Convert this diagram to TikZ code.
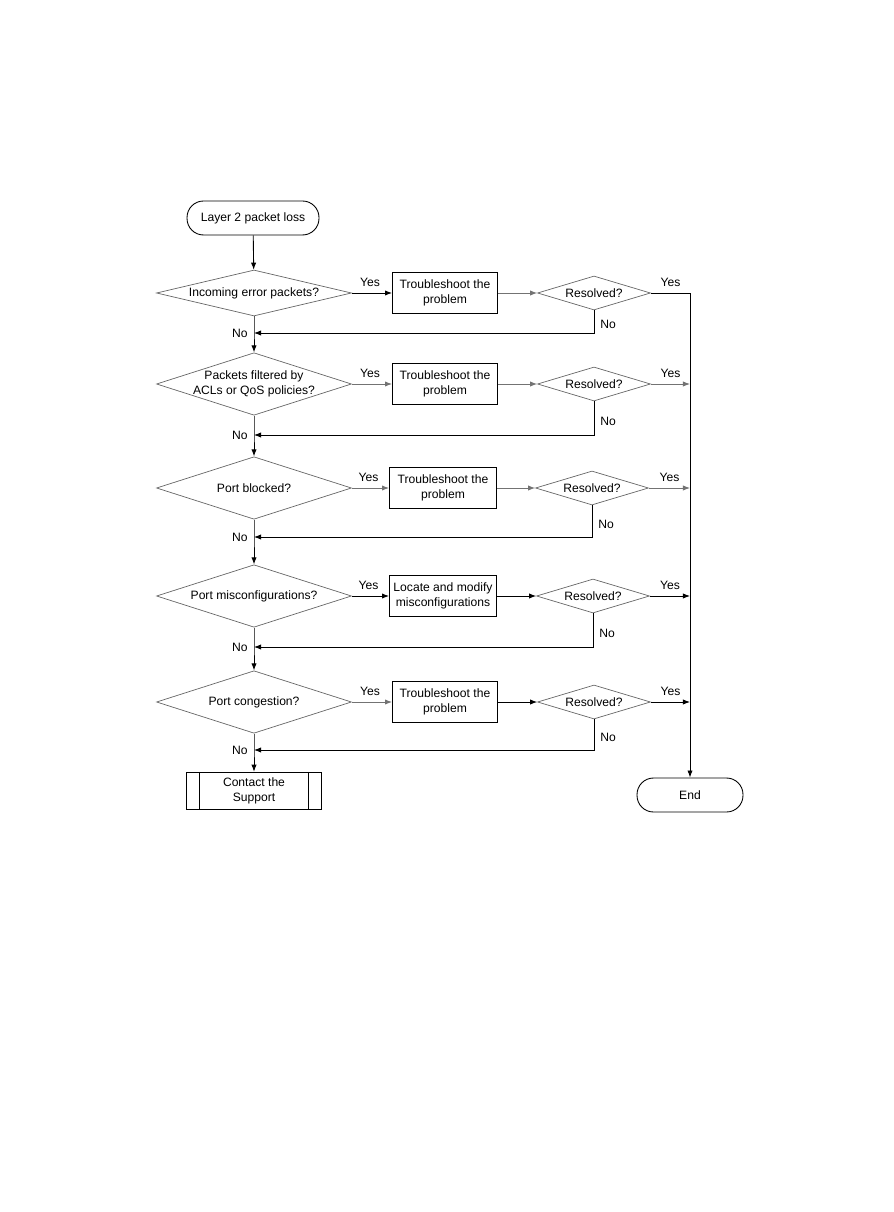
\documentclass[tikz,border=0pt]{standalone}
\usepackage{fontspec}
\setmainfont{Liberation Sans}
\usetikzlibrary{shapes.geometric,arrows.meta}

\begin{document}
\begin{tikzpicture}[x=0.02cm, y=-0.02cm, line width=0.5pt,
    every node/.style={font=\fontsize{6.9}{8.3}\selectfont},
    >={Latex[length=4pt,width=3pt]},
    term/.style={draw, rounded corners=0.33cm, minimum width=2.64cm, minimum height=0.68cm},
    check/.style={draw=black!60, line width=0.4pt, diamond, aspect=3.1, inner sep=0pt, minimum width=3.9cm, minimum height=1.25cm, align=center},
    resolved/.style={draw=black!60, line width=0.4pt, diamond, aspect=3.3, inner sep=0pt, minimum width=2.26cm, minimum height=0.68cm},
    action/.style={draw, minimum width=2.1cm, minimum height=0.82cm, inner sep=1pt, align=center},
    faint/.style={black!55}]
    \useasboundingbox (0,0) rectangle (893,1212);

    % Start and end
    \node[term] (start) at (253,218) {Layer 2 packet loss};
    \node[term, minimum width=2.12cm] (endn) at (690,795) {End};

    % Checks on the main line
    \node[check, aspect=4.2, minimum height=0.92cm] (d1) at (254,293) {Incoming error packets?};
    \node[check, inner sep=-2pt] (d2) at (254,384) {Packets filtered by\\ACLs or QoS policies?};
    \node[check] (d3) at (254,488) {Port blocked?};
    \node[check] (d4) at (254,596) {Port misconfigurations?};
    \node[check] (d5) at (254,702) {Port congestion?};

    % Actions
    \node[action] (b1) at (445,293) {Troubleshoot the\\problem};
    \node[action] (b2) at (445,384) {Troubleshoot the\\problem};
    \node[action, minimum width=2.14cm] (b3) at (443,488) {Troubleshoot the\\problem};
    \node[action, minimum width=2.14cm] (b4) at (443,596) {Locate and modify\\misconfigurations};
    \node[action] (b5) at (445,702) {Troubleshoot the\\problem};

    % Resolved checks
    \node[resolved] (r1) at (594,293) {Resolved?};
    \node[resolved] (r2) at (594,384) {Resolved?};
    \node[resolved] (r3) at (592,488) {Resolved?};
    \node[resolved] (r4) at (593,596) {Resolved?};
    \node[resolved] (r5) at (594,702) {Resolved?};

    % Contact the support
    \node[draw, minimum width=2.7cm, minimum height=0.68cm, align=center] (sup) at (254,791) {Contact the\\Support};
    \draw ([xshift=0.26cm]sup.north west) -- ([xshift=0.26cm]sup.south west);
    \draw ([xshift=-0.26cm]sup.north east) -- ([xshift=-0.26cm]sup.south east);

    % Junctions on the main line
    \coordinate (j1) at (254,333);
    \coordinate (j2) at (254,435);
    \coordinate (j3) at (254,537);
    \coordinate (j4) at (254,647);
    \coordinate (j5) at (254,750);

    % Main line
    \draw[->] (start) -- (d1);
    \draw[->] (d1.south) -- (j1) node[left]{No} -- (d2.north);
    \draw[->] (d2.south) -- (j2) node[left]{No} -- (d3.north);
    \draw[->] (d3.south) -- (j3) node[left]{No} -- (d4.north);
    \draw[->] (d4.south) -- (j4) node[left]{No} -- (d5.north);
    \draw[->] (d5.south) -- (j5) node[left]{No} -- (sup.north);

    % Yes branches
    \draw[->] (d1) -- node[above, pos=0.45]{Yes} (b1);
    \draw[->, faint] (d2) -- node[above, pos=0.45, black]{Yes} (b2);
    \draw[->, faint] (d3) -- node[above, pos=0.45, black]{Yes} (b3);
    \draw[->] (d4) -- node[above, pos=0.45]{Yes} (b4);
    \draw[->, faint] (d5) -- node[above, pos=0.45, black]{Yes} (b5);

    \draw[->, faint] (b1) -- (r1);
    \draw[->, faint] (b2) -- (r2);
    \draw[->, faint] (b3) -- (r3);
    \draw[->] (b4) -- (r4);
    \draw[->] (b5) -- (r5);

    % Resolved: yes goes to the end
    \draw[->] (r1.east) -- node[above]{Yes} (r1.east -| endn) -- (endn.north);
    \draw[->, faint] (r2.east) -- node[above, black]{Yes} (r2.east -| endn);
    \draw[->, faint] (r3.east) -- node[above, black]{Yes} (r3.east -| endn);
    \draw[->] (r4.east) -- node[above]{Yes} (r4.east -| endn);
    \draw[->] (r5.east) -- node[above]{Yes} (r5.east -| endn);

    % Resolved: no goes back
    \draw[->] (r1.south) |- node[pos=0.3, right]{No} (j1);
    \draw[->] (r2.south) |- node[pos=0.3, right]{No} (j2);
    \draw[->] (r3.south) |- node[pos=0.3, right]{No} (j3);
    \draw[->] (r4.south) |- node[pos=0.3, right]{No} (j4);
    \draw[->] (r5.south) |- node[pos=0.3, right]{No} (j5);
\end{tikzpicture}
\end{document}
